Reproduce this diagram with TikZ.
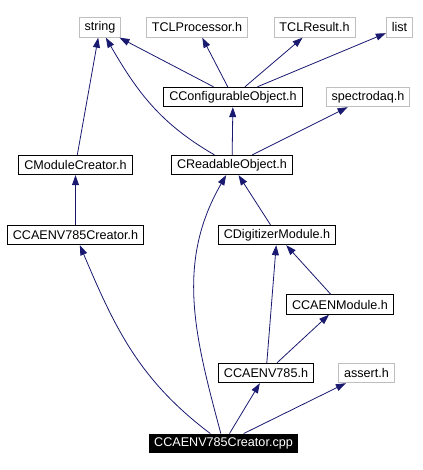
\documentclass[tikz,border=0pt]{standalone}
\usepackage{fontspec}
\setmainfont{Liberation Sans}
\usetikzlibrary{arrows.meta}
\definecolor{edgeblue}{RGB}{25,25,112}
\definecolor{extgray}{RGB}{191,191,191}
\begin{document}
\begin{tikzpicture}[x=1pt, y=1pt, every node/.style = {shape=rectangle, inner xsep=5.5pt, inner ysep=0pt, minimum height=19.5pt, font=\fontsize{12.6}{14}\selectfont},
          box/.style={draw=black, line width=0.9pt},
          extbox/.style={draw=extgray, line width=0.9pt},
          mainbox/.style={fill=black, text=white},
          edge/.style={draw=edgeblue, line width=0.8pt, -{Triangle[length=10pt,width=7pt]}}]
          \useasboundingbox (0,0) rectangle (422,470);
          % headers on top
          \node[extbox] (str) at (100,442.5) {string};
          \node[extbox] (tclp) at (197,442.5) {TCLProcessor.h};
          \node[extbox] (tclr) at (314.5,442.5) {TCLResult.h};
          \node[extbox] (lst) at (399.5,442.5) {list};
          \node[box] (cfg) at (233,373) {CConfigurableObject.h};
          \node[extbox] (sdaq) at (368,373) {spectrodaq.h};
          \node[box] (mcr) at (75.5,305) {CModuleCreator.h};
          \node[box] (rdo) at (232,305) {CReadableObject.h};
          \node[box] (vcr) at (75.5,235) {CCAENV785Creator.h};
          \node[box] (dig) at (277,235) {CDigitizerModule.h};
          \node[box] (cmod) at (340,165.5) {CCAENModule.h};
          \node[box] (v785) at (266,97) {CCAENV785.h};
          \node[extbox] (asrt) at (366.5,97) {assert.h};
          \node[mainbox] (cpp) at (223.5,26.5) {CCAENV785Creator.cpp};
          % includes
          \draw[edge] (cfg) -- (str);
          \draw[edge] (cfg) -- (tclp);
          \draw[edge] (cfg) -- (tclr);
          \draw[edge] (cfg) -- (lst);
          \draw[edge] (mcr) -- (str);
          \draw[edge] (rdo) to[out=150, in=-60] (str);
          \draw[edge] (rdo) -- (cfg);
          \draw[edge] (rdo) -- (sdaq);
          \draw[edge] (vcr) -- (mcr);
          \draw[edge] (dig) -- (rdo);
          \draw[edge] (cmod) -- (dig);
          \draw[edge] (v785) -- (dig);
          \draw[edge] (v785) -- (cmod);
          \draw[edge] (cpp) to[out=143, in=-67] (vcr);
          \draw[edge] (cpp) to[out=105, in=-120] (rdo);
          \draw[edge] (cpp) -- (v785);
          \draw[edge] (cpp) -- (asrt);
\end{tikzpicture}
\end{document}
